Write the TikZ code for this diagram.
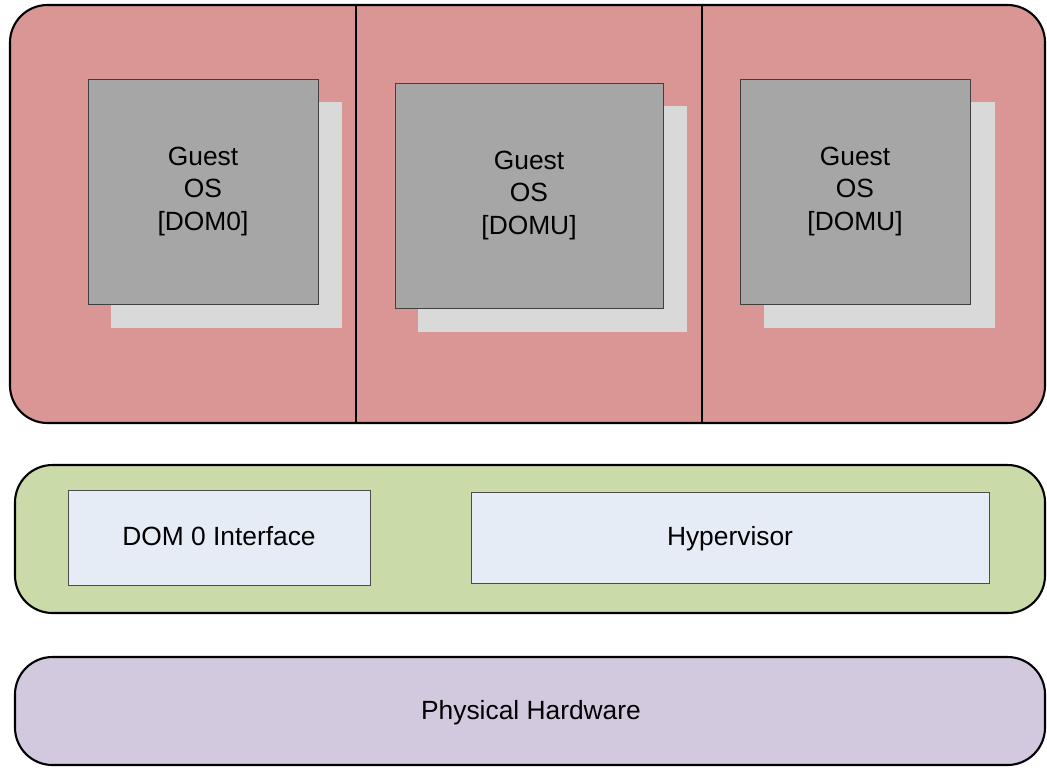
\documentclass[tikz,border=0pt]{standalone}
\usepackage{fontspec}
\setmainfont{Liberation Sans}
\usetikzlibrary{positioning}
\definecolor{domred}{HTML}{DA9694}
\definecolor{hvgreen}{HTML}{CBDAA9}
\definecolor{hwpurple}{HTML}{D3C9DF}
\definecolor{osgray}{HTML}{A6A6A6}
\definecolor{shadegray}{HTML}{D9D9D9}
\definecolor{ifblue}{HTML}{E6ECF6}
\tikzset{
  layer/.style={draw=black, line width=1.2pt, rounded corners=0.75cm},
  guestos/.style={draw=black!75, fill=osgray, line width=0.5pt, align=center,
    font=\fontsize{15}{18.5}\selectfont},
  osshade/.style={fill=shadegray},
  iface/.style={draw=black!70, fill=ifblue, line width=0.5pt,
    text height=11pt, text depth=2pt, font=\fontsize{15}{18.5}\selectfont},
}

\begin{document}
\begin{tikzpicture}[x=0.02cm, y=-0.02cm]
  \useasboundingbox (0,0) rectangle (1047,767);
  % domains layer
  \draw[layer, fill=domred] (10,5) rectangle (1045,423);
  \draw[line width=0.6pt] (356,5) -- (356,423);
  \draw[line width=0.6pt] (702,5) -- (702,423);
  % guest operating systems, with their shadows
  \fill[osshade] (111,102) rectangle (342,328);
  \node[guestos, minimum width=4.6cm, minimum height=4.5cm] (dom0) at (203,191.5) {Guest\\OS\\{[DOM0]}};
  \fill[osshade] (418,106) rectangle (687,332);
  \node[guestos, minimum width=5.36cm, minimum height=4.5cm] (domu1) at (529,195.5) {Guest\\OS\\{[DOMU]}};
  \fill[osshade] (764,102) rectangle (995,328);
  \node[guestos, minimum width=4.6cm, minimum height=4.5cm] (domu2) at (855,191.5) {Guest\\OS\\{[DOMU]}};
  % hypervisor layer
  \draw[layer, fill=hvgreen] (15,465) rectangle (1045,613);
  \node[iface, minimum width=6.04cm, minimum height=1.9cm] (dom0if) at (219,537.5) {DOM 0 Interface};
  \node[iface, minimum width=10.36cm, minimum height=1.82cm] (hyper) at (730,537.5) {Hypervisor};
  % hardware layer
  \draw[layer, fill=hwpurple] (15,657) rectangle (1045,765);
  \node[font=\fontsize{15}{18.5}\selectfont] (hw) at (531,713) {Physical Hardware};
\end{tikzpicture}
\end{document}
